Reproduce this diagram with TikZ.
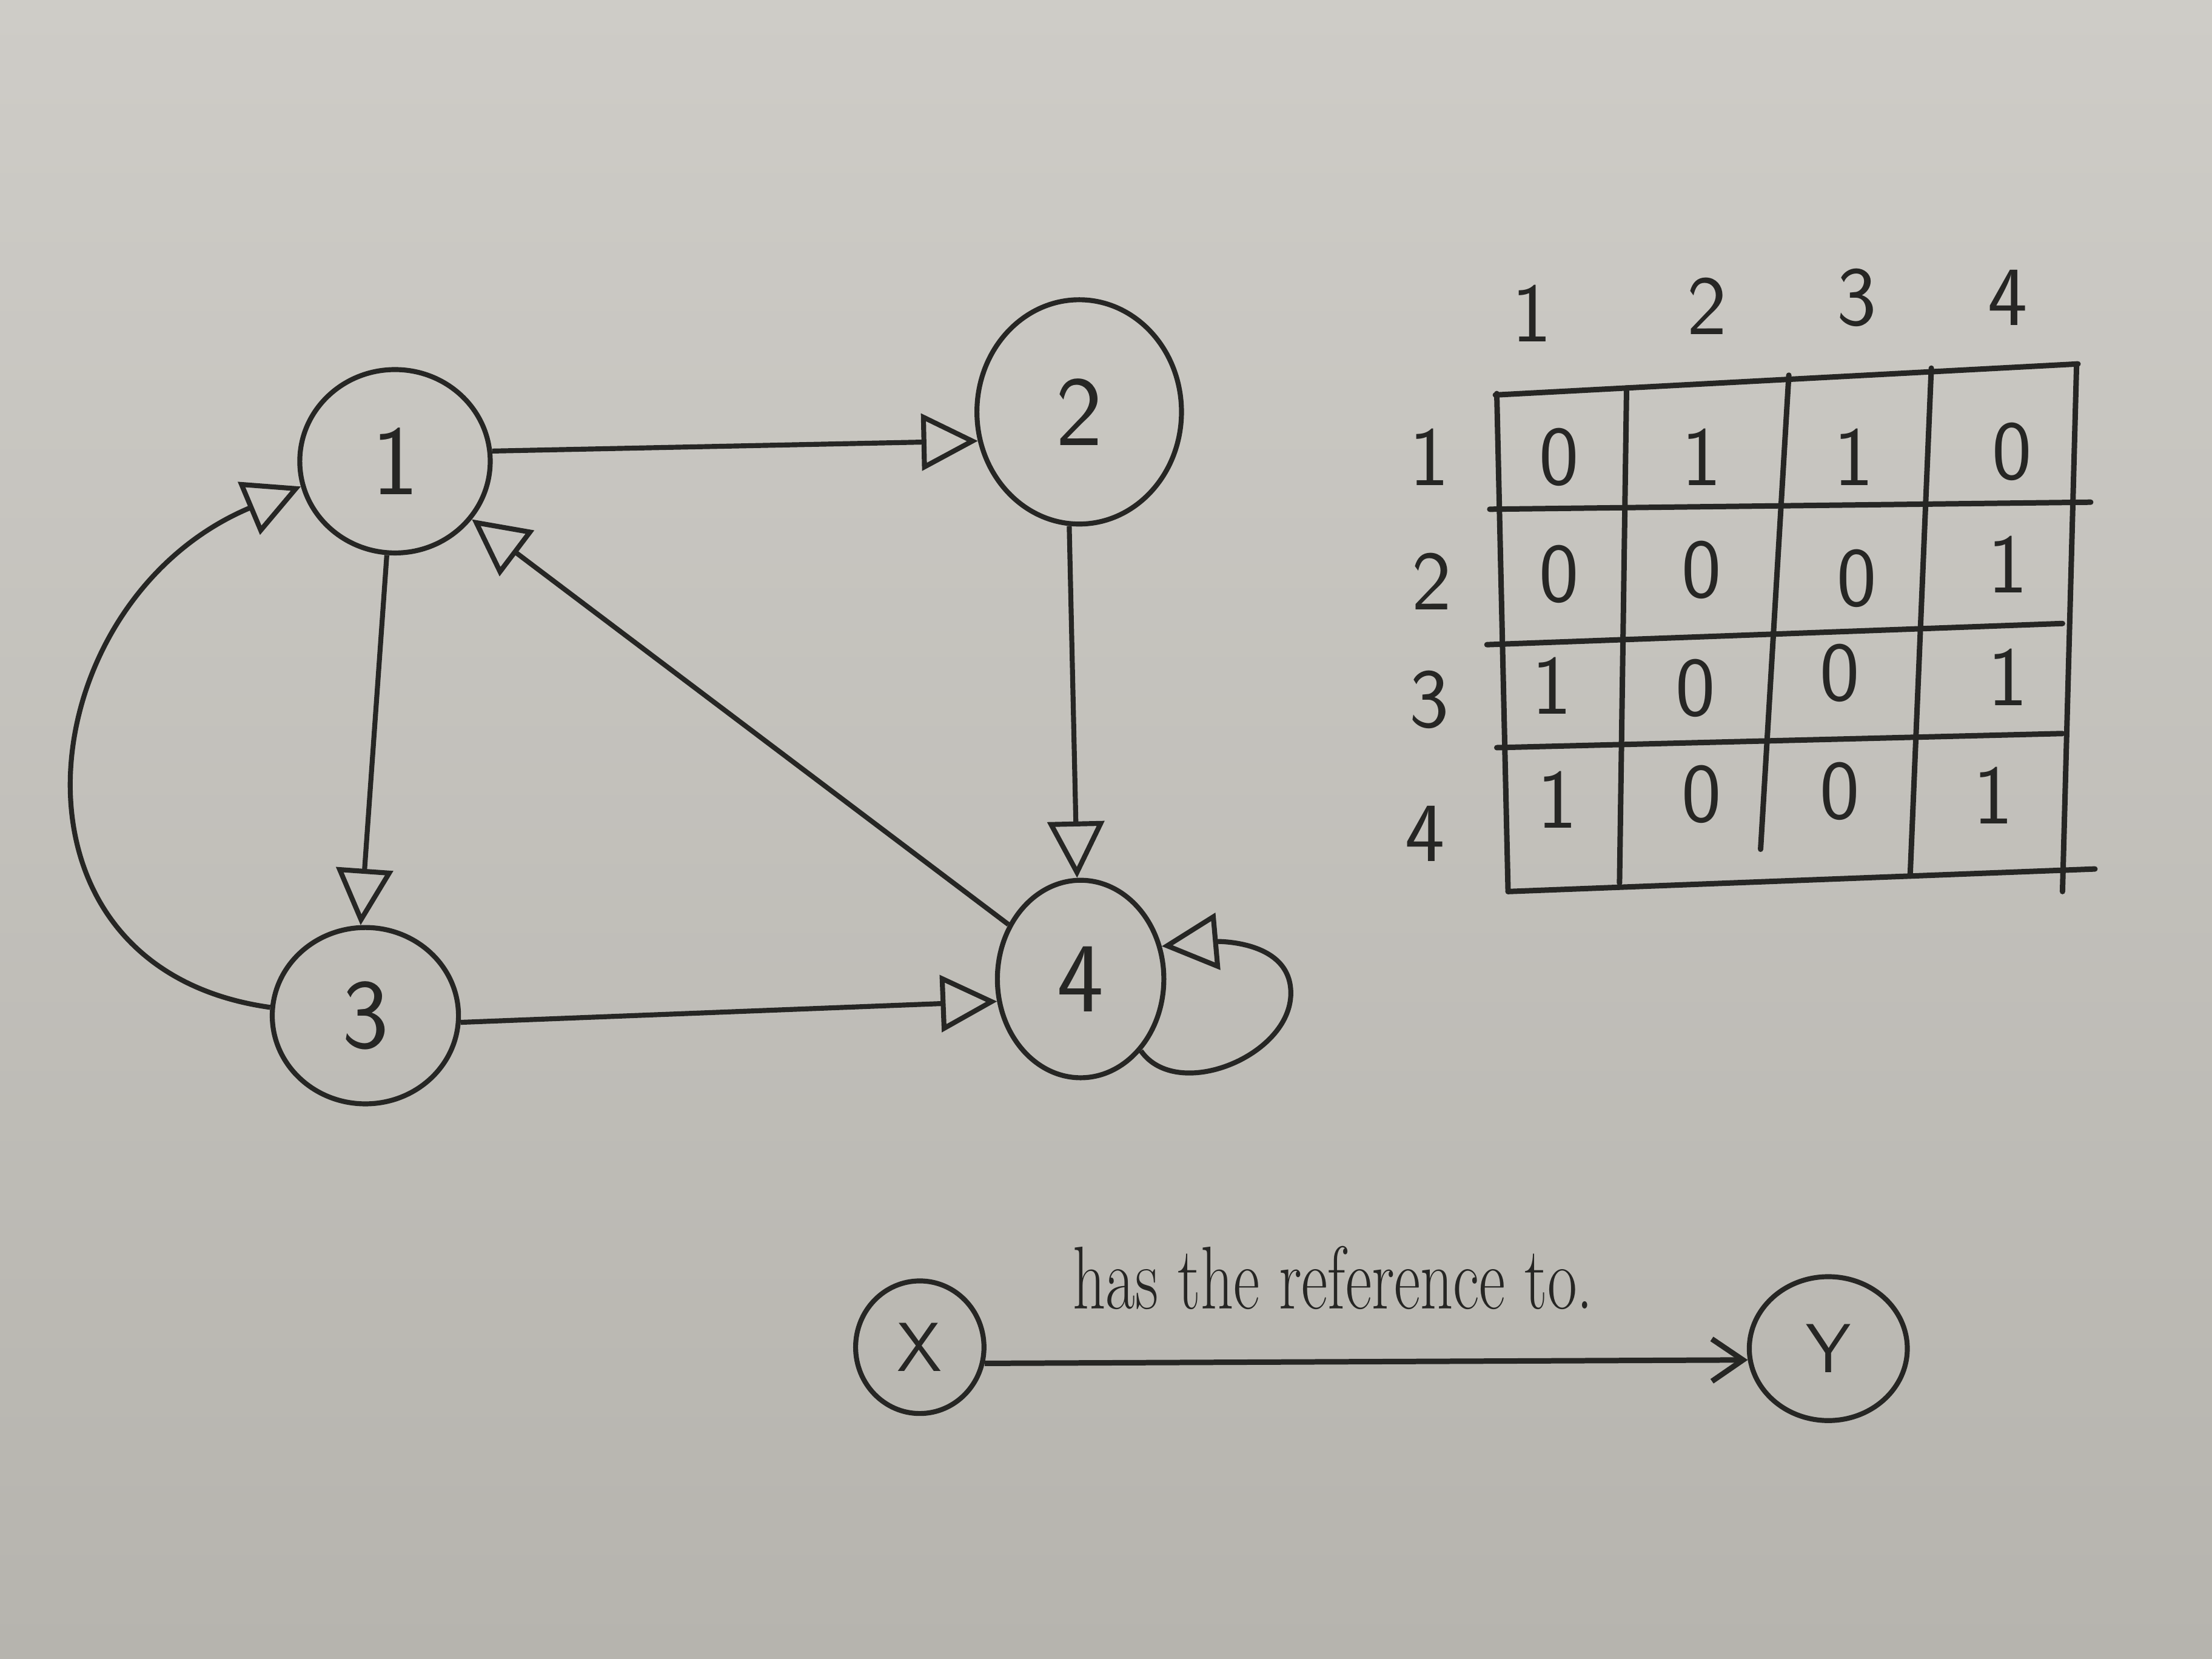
\documentclass[tikz,border=0pt]{standalone}
\usepackage{tikz}
\usetikzlibrary{arrows.meta,shapes.geometric}
\definecolor{ink}{RGB}{38,38,36}
\definecolor{boardtop}{RGB}{206,204,199}
\definecolor{boardbot}{RGB}{182,180,174}
\tikzset{
	vertex/.style={draw=ink, ellipse, line width=1pt, inner sep=0pt, text=ink, font=\sffamily\fontsize{20}{24}\selectfont},
	smallvertex/.style={vertex, font=\sffamily\fontsize{14}{16}\selectfont},
	edge/.style={draw=ink, line width=1pt, -{Triangle[open, length=4mm, width=4mm]}},
	refedge/.style={draw=ink, line width=1.1pt, -{Straight Barb[length=2.2mm, width=3mm]}},
	cell/.style={text=ink, font=\sffamily\fontsize{17}{20}\selectfont},
	gridline/.style={draw=ink, line width=1.1pt, line cap=round},
}

\begin{document}
\begin{tikzpicture}
	%%%%% START %%%%%
	
	\shade[top color=boardtop, bottom color=boardbot] (0, 0) rectangle (15.68, 11.76);
	\useasboundingbox (0, 0) rectangle (15.68, 11.76);
	
	\node[vertex, minimum width=1.35cm, minimum height=1.30cm] (n1) at (2.80, 8.49) {1};
	\node[vertex, minimum width=1.45cm, minimum height=1.59cm] (n2) at (7.65, 8.84) {2};
	\node[vertex, minimum width=1.32cm, minimum height=1.25cm] (n3) at (2.59, 4.56) {3};
	\node[vertex, minimum width=1.18cm, minimum height=1.40cm] (n4) at (7.66, 4.82) {4};
	
	\draw[edge] (n1.6) -- (n2.196);
	\draw[edge] (n1.265) -- (n3.93);
	\draw[edge] (n2.265) -- (n4.92);
	\draw[edge] (n3.356) -- (n4.195);
	\draw[edge] (n4) -- (n1);
	\draw[edge] (n3.175) .. controls (-0.1, 4.9) and (0.2, 7.5) .. (n1.195);
	\coordinate (loopr) at (9.15, 4.72);
	\draw[edge] (n4.-50) to[out=-55, in=-90] (loopr) to[out=90, in=5] (n4.22);
	
	% adjacency matrix
	\draw[gridline] (10.60, 8.96) -- (14.73, 9.18);
	\draw[gridline] (10.56, 8.15) -- (14.82, 8.20);
	\draw[gridline] (10.54, 7.19) -- (14.62, 7.34);
	\draw[gridline] (10.61, 6.46) -- (14.62, 6.56);
	\draw[gridline] (10.69, 5.44) -- (14.85, 5.60);
	
	\draw[gridline] (10.61, 8.97) -- (10.69, 5.44);
	\draw[gridline] (11.53, 9.01) -- (11.48, 5.50);
	\draw[gridline] (12.68, 9.10) -- (12.48, 5.74);
	\draw[gridline] (13.69, 9.15) -- (13.54, 5.55);
	\draw[gridline] (14.72, 9.18) -- (14.62, 5.44);
	
	\node[cell] (c1) at (10.86, 9.54) {1};
	\node[cell] (c2) at (12.10, 9.59) {2};
	\node[cell] (c3) at (13.16, 9.65) {3};
	\node[cell] (c4) at (14.23, 9.65) {4};
	
	\node[cell] (r1) at (10.13, 8.52) {1};
	\node[cell] (r2) at (10.15, 7.64) {2};
	\node[cell] (r3) at (10.13, 6.80) {3};
	\node[cell] (r4) at (10.10, 5.85) {4};
	
	\node[cell] (m11) at (11.05, 8.52) {0};
	\node[cell] (m12) at (12.06, 8.52) {1};
	\node[cell] (m13) at (13.14, 8.52) {1};
	\node[cell] (m14) at (14.26, 8.56) {0};
	
	\node[cell] (m21) at (11.05, 7.69) {0};
	\node[cell] (m22) at (12.06, 7.72) {0};
	\node[cell] (m23) at (13.16, 7.66) {0};
	\node[cell] (m24) at (14.23, 7.76) {1};
	
	\node[cell] (m31) at (11.00, 6.90) {1};
	\node[cell] (m32) at (12.02, 6.88) {0};
	\node[cell] (m33) at (13.04, 6.99) {0};
	\node[cell] (m34) at (14.23, 6.96) {1};
	
	\node[cell] (m41) at (11.04, 6.09) {1};
	\node[cell] (m42) at (12.06, 6.13) {0};
	\node[cell] (m43) at (13.04, 6.15) {0};
	\node[cell] (m44) at (14.13, 6.12) {1};
	
	% legend
	\node[smallvertex, minimum width=0.91cm, minimum height=0.94cm] (x) at (6.52, 2.21) {X};
	\node[smallvertex, minimum width=1.12cm, minimum height=1.02cm] (y) at (12.96, 2.20) {Y};
	\draw[refedge] (x.-14) -- (y.188);
	\node[text=ink, font=\fontsize{18}{22}\selectfont, xscale=0.72, transform shape] (lbl) at (9.45, 2.70) {has the reference to.};
	
	%%%%% END %%%%%
\end{tikzpicture}
\end{document}
